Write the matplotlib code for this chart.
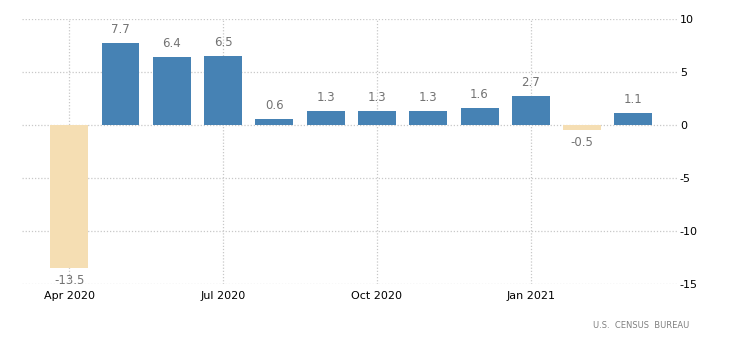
import matplotlib
matplotlib.use("Agg")
import matplotlib.pyplot as plt
import numpy as np

months = ["Apr 2020", "May 2020", "Jun 2020", "Jul 2020", "Aug 2020", "Sep 2020",
          "Oct 2020", "Nov 2020", "Dec 2020", "Jan 2021", "Feb 2021", "Mar 2021"]
values = [-13.5, 7.7, 6.4, 6.5, 0.6, 1.3, 1.3, 1.3, 1.6, 2.7, -0.5, 1.1]
tick_months = ["Apr 2020", "Jul 2020", "Oct 2020", "Jan 2021"]
y_ticks = [10, 5, 0, -5, -10, -15]

W, H = 730, 340
fig = plt.figure(figsize=(W / 100, H / 100), dpi=100)
ax = fig.add_axes([22 / W, (H - 284) / H, (677 - 22) / W, (284 - 19) / H])

x = np.arange(len(months))
colors = ["#4682b4" if v >= 0 else "#f5deb3" for v in values]
ax.bar(x, values, width=0.74, color=colors, zorder=3)

for xi, v in zip(x, values):
    if v >= 0:
        ax.annotate(f"{v:g}", (xi, v), xytext=(0, 5), textcoords="offset points",
                    ha="center", va="bottom", fontsize=8.5, color="#737373", zorder=4)
    else:
        ax.annotate(f"{v:g}", (xi, v), xytext=(0, -4), textcoords="offset points",
                    ha="center", va="top", fontsize=8.5, color="#737373", zorder=4)

ax.set_xlim(-0.92, 11.85)
ax.set_ylim(-15, 10)
ax.set_yticks(y_ticks)
ax.set_yticklabels([f"{t:g}" for t in y_ticks])
ax.yaxis.tick_right()
ax.set_xticks([months.index(m) for m in tick_months])
ax.set_xticklabels(tick_months)
ax.tick_params(axis="both", length=0, labelsize=8, colors="black")
ax.tick_params(axis="y", pad=2)
ax.tick_params(axis="x", pad=5)

ax.grid(True, color="#c8c8c8", linestyle=(0, (1, 1.5)), linewidth=0.9, zorder=0)
for s in ax.spines.values():
    s.set_visible(False)

fig.text(641 / W, 1 - 325 / H, "U.S.  CENSUS  BUREAU", fontsize=6, color="#808080",
         ha="center", va="center")

fig.savefig("out.png", dpi=100)
